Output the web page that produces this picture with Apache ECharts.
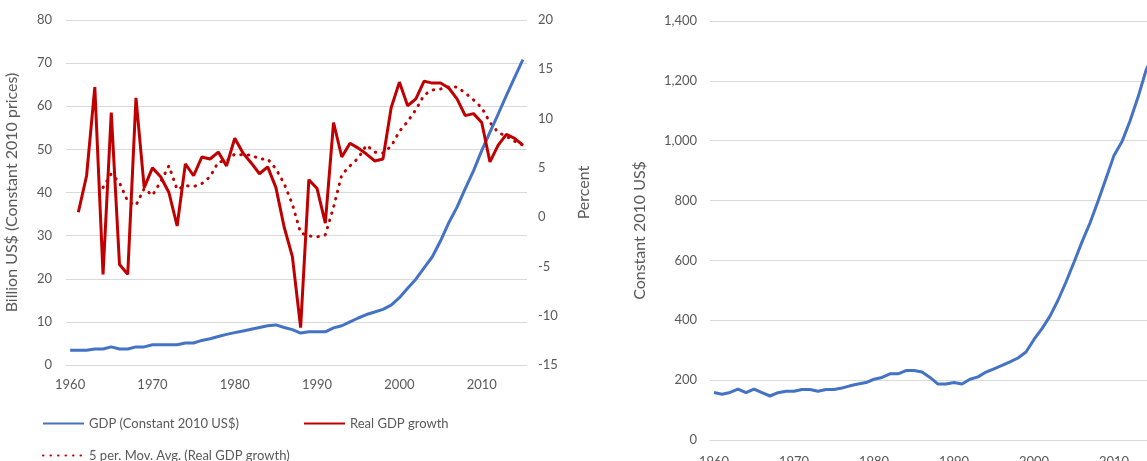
<!DOCTYPE html>
<html>
<head>
<meta charset="utf-8">
<script src="https://cdn.jsdelivr.net/npm/echarts@6/dist/echarts.min.js"></script>
<style>
html,body{margin:0;padding:0;background:#fff;overflow:hidden;}
#chart{width:1147px;height:461px;}
</style>
</head>
<body>
<div id="chart"></div>
<script>
const years = ['1960','1961','1962','1963','1964','1965','1966','1967','1968','1969',
'1970','1971','1972','1973','1974','1975','1976','1977','1978','1979',
'1980','1981','1982','1983','1984','1985','1986','1987','1988','1989',
'1990','1991','1992','1993','1994','1995','1996','1997','1998','1999',
'2000','2001','2002','2003','2004','2005','2006','2007','2008','2009',
'2010','2011','2012','2013','2014','2015'];

// GDP, billion US$ (constant 2010 prices)
const gdp = [3.4,3.4,3.4,3.7,3.7,4.2,3.7,3.7,4.2,4.2,
4.7,4.7,4.7,4.7,5.1,5.1,5.7,6.1,6.6,7.1,
7.5,7.9,8.3,8.7,9.1,9.3,8.7,8.2,7.4,7.7,
7.7,7.7,8.6,9.1,10.0,10.9,11.7,12.3,12.9,13.9,
15.6,17.8,19.9,22.5,25.1,28.8,33.0,36.6,40.9,45.0,
49.7,54.0,58.2,62.5,66.7,70.8];

// Real GDP growth, percent
const growth = [null,0.5,4.2,13.2,-5.8,10.6,-4.8,-5.8,12.1,3.0,
5.0,4.1,2.5,-0.9,5.4,4.2,6.1,5.9,6.6,5.2,
8.0,6.5,5.5,4.4,5.1,3.0,-1.0,-4.0,-11.2,3.8,
2.9,-0.6,9.6,6.1,7.5,7.0,6.4,5.7,5.9,11.1,
13.7,11.3,12.0,13.8,13.6,13.6,13.1,12.0,10.3,10.5,
9.6,5.6,7.3,8.4,8.0,7.3];

// 5 per. Mov. Avg. (Real GDP growth), percent
const movAvg = [null,null,null,null,3.0,4.4,3.5,1.6,1.2,2.9,
2.2,3.6,5.2,2.8,3.2,3.1,3.4,4.1,5.6,5.7,
6.4,6.3,6.3,5.9,5.9,4.9,3.4,1.3,-1.6,-1.9,
-2.0,-1.8,1.0,4.3,5.2,6.0,7.3,6.6,6.5,7.2,
8.7,9.7,10.9,12.4,12.9,13.0,13.2,13.2,12.6,11.9,
11.1,9.6,8.6,8.2,7.7,7.3];

// GDP per capita, constant 2010 US$
const gdpPerCapita = [159,153,159,170,158,170,158,147,158,163,
163,169,169,163,169,169,174,181,187,192,
203,209,221,221,232,232,227,209,187,187,
192,187,203,211,227,238,249,261,274,294,
336,372,414,467,528,594,662,725,798,874,
951,997,1066,1145,1235,1295];

const names = {
  gdp: 'GDP (Constant 2010 US$)',
  growth: 'Real GDP growth',
  ma: '5 per. Mov. Avg. (Real GDP growth)'
};

const FONT = 'Lato, "Open Sans", sans-serif';
const GREY = '#595959';
const GRID = '#D9D9D9';
const BLUE = '#4472C4';
const RED = '#C00000';

const labelStyle = {color: GREY, fontSize: 13, fontFamily: FONT};
const nameStyle = {color: GREY, fontSize: 16, fontFamily: FONT};

function xAxisFor(idx, margin){
  return {
    type: 'category', gridIndex: idx, data: years, boundaryGap: true,
    axisTick: {show: false},
    axisLine: {show: true, lineStyle: {color: GRID, width: 1}},
    axisLabel: Object.assign({interval: 9, margin: margin}, labelStyle),
    splitLine: {show: false}
  };
}

const legendBase = {
  itemWidth: 41, itemHeight: 14, padding: 0, textStyle: labelStyle,
  itemStyle: {opacity: 0, color: 'transparent', borderWidth: 0}
};

const chart = echarts.init(document.getElementById('chart'), null, {renderer: 'canvas'});
chart.setOption({
  animation: false,
  backgroundColor: '#fff',
  textStyle: {fontFamily: FONT},
  grid: [
    {left: 66, top: 20, width: 461, height: 345, containLabel: false, outerBoundsMode: 'none'},
    {left: 710, top: 21, width: 448, height: 419, containLabel: false, outerBoundsMode: 'none'}
  ],
  legend: [
    Object.assign({data: [names.gdp], left: 42, top: 417}, legendBase),
    Object.assign({data: [names.growth], left: 303, top: 417}, legendBase),
    Object.assign({data: [names.ma], left: 42, top: 449}, legendBase)
  ],
  xAxis: [xAxisFor(0, 13), xAxisFor(1, 15)],
  yAxis: [
    {
      type: 'value', gridIndex: 0, min: 0, max: 80, interval: 10, position: 'left',
      name: 'Billion US$ (Constant 2010 prices)', nameLocation: 'middle', nameGap: 46,
      nameTextStyle: nameStyle,
      axisLine: {show: false}, axisTick: {show: false},
      axisLabel: Object.assign({margin: 14}, labelStyle),
      splitLine: {show: true, lineStyle: {color: GRID, width: 1}}
    },
    {
      type: 'value', gridIndex: 0, min: -15, max: 20, interval: 5, position: 'right',
      name: 'Percent', nameLocation: 'middle', nameGap: 49, nameRotate: 90,
      nameTextStyle: nameStyle,
      axisLine: {show: false}, axisTick: {show: false},
      axisLabel: Object.assign({margin: 11}, labelStyle),
      splitLine: {show: false}
    },
    {
      type: 'value', gridIndex: 1, min: 0, max: 1400, interval: 200,
      name: 'Constant 2010 US$', nameLocation: 'middle', nameGap: 62,
      nameTextStyle: nameStyle,
      axisLine: {show: false}, axisTick: {show: false},
      axisLabel: Object.assign({margin: 13, formatter: v => v.toLocaleString('en-US')}, labelStyle),
      splitLine: {show: true, lineStyle: {color: GRID, width: 1}}
    }
  ],
  series: [
    {
      name: names.gdp, type: 'line', xAxisIndex: 0, yAxisIndex: 0, data: gdp,
      symbol: 'none', showSymbol: false, z: 3,
      lineStyle: {color: BLUE, width: 3}, itemStyle: {color: BLUE}
    },
    {
      name: names.growth, type: 'line', xAxisIndex: 0, yAxisIndex: 1, data: growth,
      symbol: 'none', showSymbol: false, z: 4,
      lineStyle: {color: RED, width: 3}, itemStyle: {color: RED}
    },
    {
      name: names.ma, type: 'line', xAxisIndex: 0, yAxisIndex: 1, data: movAvg,
      symbol: 'none', showSymbol: false, z: 2,
      lineStyle: {color: RED, width: 3, type: [0.5, 7], cap: 'round'}, itemStyle: {color: RED}
    },
    {
      name: 'GDP per capita', type: 'line', xAxisIndex: 1, yAxisIndex: 2, data: gdpPerCapita,
      symbol: 'none', showSymbol: false,
      lineStyle: {color: BLUE, width: 3}, itemStyle: {color: BLUE}
    }
  ]
});
</script>
</body>
</html>
